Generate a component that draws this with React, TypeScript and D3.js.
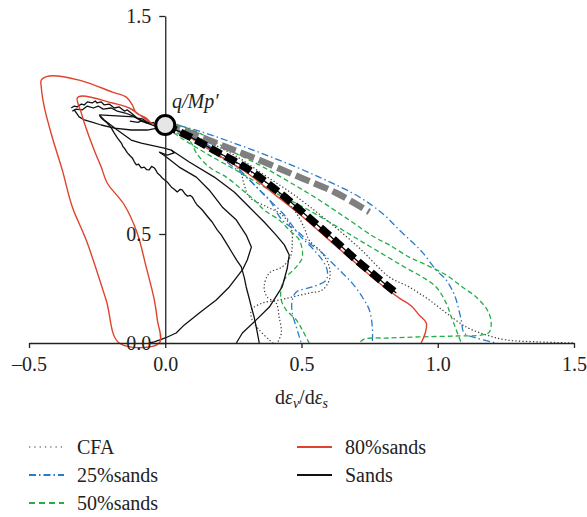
import React, { useEffect, useRef } from "react";
import * as d3 from "d3";

type P = [number, number];

// ---- axis ticks ----
const xTickValues = [-0.5, 0, 0.5, 1.0, 1.5];
const xTickLabels = ["\u20130.5", "0.0", "0.5", "1.0", "1.5"];
const yTickValues = [0, 0.5, 1.5];
const yTickLabels = ["0.0", "0.5", "1.5"];

// ---- theoretical lines ----
const theoryBlack: P[] = [
  [0, 1.0], [0.099, 0.94], [0.191, 0.876], [0.297, 0.803], [0.407, 0.702],
  [0.503, 0.601], [0.609, 0.486], [0.701, 0.381], [0.848, 0.229],
];
const theoryGray: P[] = [
  [0, 1.0], [0.033, 0.991], [0.187, 0.917], [0.345, 0.839], [0.492, 0.761],
  [0.628, 0.688], [0.749, 0.601],
];

// ---- CFA (dotted) ----
const cfa1: P[] = [
  [0, 1.0], [0.125, 0.94], [0.253, 0.862], [0.363, 0.771], [0.473, 0.679],
  [0.583, 0.573], [0.712, 0.436], [0.822, 0.303], [0.895, 0.257], [0.969, 0.197],
  [1.031, 0.138], [1.105, 0.073], [1.178, 0.037], [1.251, 0.014], [1.372, 0.005], [1.497, 0.0],
];
const cfa2: P[] = [
  [0, 1.0], [0.106, 0.931], [0.198, 0.862], [0.272, 0.794], [0.29, 0.725],
  [0.308, 0.67], [0.374, 0.624], [0.429, 0.587], [0.462, 0.528], [0.466, 0.459],
  [0.459, 0.394], [0.429, 0.349], [0.382, 0.321], [0.363, 0.257], [0.374, 0.211],
  [0.407, 0.183], [0.418, 0.119], [0.426, 0.046], [0.411, 0],
];
const cfa3: P[] = [
  [0, 1.0], [0.125, 0.922], [0.272, 0.817], [0.382, 0.725], [0.473, 0.61],
  [0.51, 0.528], [0.528, 0.472], [0.576, 0.413], [0.602, 0.349], [0.602, 0.289],
  [0.576, 0.243], [0.528, 0.229], [0.466, 0.211], [0.418, 0.197], [0.356, 0.183],
  [0.316, 0.151], [0.319, 0.106], [0.345, 0.06], [0.382, 0.014], [0.396, 0],
];

// ---- 25%sands (dash-dot) ----
const s25a: P[] = [
  [0, 1.014], [0.125, 0.972], [0.272, 0.908], [0.418, 0.839], [0.565, 0.761],
  [0.712, 0.67], [0.804, 0.587], [0.859, 0.518], [0.906, 0.463], [0.943, 0.417],
  [0.994, 0.335], [1.031, 0.289], [1.053, 0.243], [1.068, 0.197], [1.086, 0.106],
  [1.097, 0.046], [1.141, 0.023], [1.215, 0],
];
const s25b: P[] = [
  [0, 1.0], [0.125, 0.931], [0.235, 0.839], [0.327, 0.725], [0.382, 0.656],
  [0.429, 0.564], [0.492, 0.505], [0.528, 0.459], [0.576, 0.413], [0.613, 0.367],
  [0.65, 0.321], [0.686, 0.275], [0.723, 0.211], [0.749, 0.151], [0.76, 0.073], [0.76, 0],
];
const s25c: P[] = [
  [0, 1.0], [0.106, 0.94], [0.217, 0.839], [0.308, 0.748], [0.363, 0.679],
  [0.437, 0.587], [0.492, 0.495], [0.539, 0.436], [0.576, 0.381], [0.594, 0.335],
  [0.591, 0.289], [0.539, 0.257], [0.481, 0.234], [0.466, 0.197], [0.466, 0.138],
  [0.481, 0.073], [0.492, 0.028], [0.499, 0],
];

// ---- 50%sands (dashed) ----
const s50a: P[] = [
  [0.015, 1.014], [0.125, 0.963], [0.235, 0.885], [0.345, 0.817], [0.455, 0.739],
  [0.565, 0.656], [0.675, 0.564], [0.767, 0.486], [0.822, 0.45], [0.895, 0.394],
  [0.958, 0.358], [1.031, 0.312], [1.09, 0.257], [1.141, 0.211], [1.182, 0.151],
  [1.196, 0.096], [1.189, 0.05], [1.163, 0.037], [1.068, 0.032], [0.932, 0.028],
  [0.822, 0.023], [0.73, 0.018], [0.712, 0],
];
const s50b: P[] = [
  [0.007, 0.986], [0.07, 0.931], [0.161, 0.862], [0.272, 0.784], [0.382, 0.702],
  [0.492, 0.633], [0.602, 0.555], [0.712, 0.472], [0.822, 0.39], [0.884, 0.344],
  [0.943, 0.303], [0.994, 0.257], [1.031, 0.183], [1.05, 0.119], [1.068, 0.06], [1.086, 0],
];
const s50c: P[] = [
  [0.015, 0.977], [0.088, 0.931], [0.114, 0.872], [0.161, 0.807], [0.224, 0.761],
  [0.283, 0.702], [0.327, 0.656], [0.363, 0.61], [0.418, 0.564], [0.455, 0.518],
  [0.492, 0.472], [0.503, 0.394], [0.481, 0.349], [0.444, 0.303], [0.426, 0.257],
  [0.426, 0.197], [0.444, 0.151], [0.481, 0.106], [0.503, 0.06], [0.528, 0],
];

// ---- 80%sands (solid red) ----
const s80loop: P[] = [
  [-0.022, 1.005], [-0.051, 1.009], [-0.07, 1.032], [-0.106, 1.055], [-0.121, 1.092],
  [-0.143, 1.128], [-0.194, 1.151], [-0.316, 1.206], [-0.426, 1.225], [-0.455, 1.206],
  [-0.455, 1.174], [-0.444, 1.083], [-0.415, 0.945], [-0.378, 0.794], [-0.341, 0.624],
  [-0.29, 0.472], [-0.217, 0.197], [-0.169, 0], [-0.022, 0], [-0.029, 0.106],
  [-0.04, 0.197], [-0.07, 0.349], [-0.103, 0.505], [-0.15, 0.633], [-0.213, 0.734],
  [-0.235, 0.807], [-0.261, 0.885], [-0.297, 1.009], [-0.308, 1.055], [-0.323, 1.124],
  [-0.305, 1.133], [-0.194, 1.101], [-0.132, 1.078], [-0.084, 1.037], [-0.051, 1.009],
];
const s80main: P[] = [
  [0.015, 0.991], [0.088, 0.945], [0.18, 0.872], [0.29, 0.789], [0.4, 0.683],
  [0.492, 0.592], [0.602, 0.472], [0.694, 0.372], [0.785, 0.275], [0.859, 0.206],
  [0.903, 0.17], [0.932, 0.128], [0.958, 0.092], [0.954, 0.046], [0.939, 0],
];

// ---- Sands (solid black) ----
const sandsClusterTop: P[] = [
  [-0.345, 1.078], [-0.334, 1.087], [-0.323, 1.083], [-0.308, 1.096], [-0.297, 1.092],
  [-0.286, 1.106], [-0.268, 1.101], [-0.257, 1.11], [-0.25, 1.101], [-0.235, 1.106],
  [-0.224, 1.092], [-0.206, 1.096], [-0.187, 1.078], [-0.169, 1.083], [-0.15, 1.064],
  [-0.139, 1.069], [-0.125, 1.055], [-0.103, 1.032], [-0.084, 1.028], [-0.066, 1.014],
  [-0.048, 1.009], [-0.029, 1.0],
];
const sandsClusterTop2: P[] = [
  [-0.341, 1.064], [-0.327, 1.073], [-0.305, 1.069], [-0.286, 1.087], [-0.264, 1.078],
  [-0.246, 1.087], [-0.228, 1.073], [-0.198, 1.078], [-0.176, 1.064], [-0.147, 1.055],
  [-0.117, 1.041], [-0.088, 1.018], [-0.059, 1.005], [-0.029, 0.991],
];
const sandsClusterBottom: P[] = [
  [-0.334, 1.069], [-0.316, 1.037], [-0.297, 1.023], [-0.272, 1.014], [-0.235, 1.0],
  [-0.187, 0.986], [-0.125, 0.977], [-0.066, 0.977], [-0.029, 0.986],
];
const sandsBox: P[] = [
  [-0.242, 1.046], [-0.114, 1.037], [-0.066, 1.009],
];
const sandsBox2: P[] = [
  [-0.13, 1.018], [-0.1, 1.012], [-0.085, 1.02], [-0.06, 1.008], [-0.04, 1.012],
];
const sandsLower: P[] = [
  [-0.242, 1.046], [-0.224, 1.023], [-0.176, 0.977], [-0.125, 0.931], [-0.088, 0.917],
  [-0.004, 0.894], [0.022, 0.885], [0.033, 0.872], [0.007, 0.862], [-0.022, 0.876],
];
const sands1: P[] = [
  [-0.242, 1.046], [-0.235, 1.032], [-0.213, 1.009], [-0.2, 0.99], [-0.187, 0.963],
  [-0.175, 0.94], [-0.161, 0.917], [-0.155, 0.9], [-0.15, 0.894], [-0.143, 0.88],
  [-0.139, 0.872], [-0.13, 0.86], [-0.121, 0.849], [-0.113, 0.83], [-0.106, 0.817],
  [-0.098, 0.82], [-0.088, 0.803], [-0.077, 0.807], [-0.068, 0.795], [-0.059, 0.794],
  [-0.05, 0.81], [-0.04, 0.803], [-0.033, 0.79], [-0.029, 0.78], [-0.02, 0.77],
  [-0.011, 0.757], [0.007, 0.739], [0.022, 0.716], [0.033, 0.705], [0.044, 0.693],
  [0.055, 0.705], [0.062, 0.702], [0.072, 0.685], [0.081, 0.674], [0.092, 0.677],
  [0.099, 0.67], [0.108, 0.65], [0.117, 0.633], [0.136, 0.61], [0.152, 0.585],
  [0.172, 0.555], [0.19, 0.52], [0.206, 0.495], [0.228, 0.45], [0.246, 0.413],
  [0.262, 0.38], [0.279, 0.349], [0.29, 0.3], [0.297, 0.257], [0.307, 0.21],
  [0.316, 0.165], [0.326, 0.12], [0.334, 0.073], [0.345, 0],
];
const sands2: P[] = [
  [-0.022, 0.876], [0.004, 0.853], [0.051, 0.807], [0.114, 0.761], [0.161, 0.702],
  [0.209, 0.624], [0.261, 0.564], [0.297, 0.495], [0.316, 0.44], [0.301, 0.381],
  [0.283, 0.335], [0.235, 0.257], [0.187, 0.197], [0.125, 0.138], [0.07, 0.083],
  [0.04, 0.046], [0, 0.023], [-0.04, 0.005], [-0.059, 0],
];
const sands3: P[] = [
  [0.022, 0.885], [0.088, 0.83], [0.18, 0.761], [0.253, 0.693], [0.308, 0.624],
  [0.363, 0.555], [0.407, 0.495], [0.437, 0.45], [0.455, 0.404], [0.448, 0.344],
  [0.429, 0.257], [0.382, 0.165], [0.334, 0.106], [0.283, 0.046], [0.261, 0],
];

const cfaLines = [cfa1, cfa2, cfa3];
const s25Lines = [s25a, s25b, s25c];
const s50Lines = [s50a, s50b, s50c];
const s80Lines = [s80loop, s80main];
const sandsLines = [
  sandsClusterTop, sandsClusterTop2, sandsClusterBottom, sandsBox, sandsBox2,
  sandsLower, sands1, sands2, sands3,
];

const legendNames = ["CFA", "25%sands", "50%sands", "80%sands", "Sands"];

const W = 587;
const H = 517;
const FONT = "'Liberation Serif', 'Times New Roman', serif";
const FS = 20;

const RED = "#e0432d";
const BLUE = "#2b7bcb";
const GREEN = "#25ad48";
const DOT = "#3a3a3a";

const styles: Record<string, { stroke: string; dash: string | undefined; width: number }> = {
  CFA: { stroke: DOT, dash: "1.3,2.2", width: 1.2 },
  "25%sands": { stroke: BLUE, dash: "7,3,1.5,3", width: 1.3 },
  "50%sands": { stroke: GREEN, dash: "5,3", width: 1.3 },
  "80%sands": { stroke: RED, dash: undefined, width: 1.4 },
  Sands: { stroke: "#111", dash: undefined, width: 1.3 },
};

export default function App() {
  const xAxisRef = useRef<SVGGElement>(null);
  const yAxisRef = useRef<SVGGElement>(null);

  const x = d3.scaleLinear().domain([-0.5, 1.5]).range([29, 574]);
  const y = d3.scaleLinear().domain([0, 1.5]).range([343, 16]);

  const smooth = d3.line<P>().x((d) => x(d[0])).y((d) => y(d[1])).curve(d3.curveCatmullRom.alpha(0.5));
  const straight = d3.line<P>().x((d) => x(d[0])).y((d) => y(d[1]));

  useEffect(() => {
    if (xAxisRef.current) {
      const ax = d3
        .axisBottom(x)
        .tickValues(xTickValues)
        .tickFormat((_d, i) => xTickLabels[i])
        .tickSize(5)
        .tickSizeOuter(0)
        .tickPadding(9);
      const g = d3.select(xAxisRef.current);
      g.call(ax as any);
      g.select(".domain").attr("stroke", "#222").attr("stroke-width", 1.3);
      g.selectAll(".tick line").attr("stroke", "#222").attr("stroke-width", 1.3);
      g.selectAll(".tick text").attr("font-family", FONT).attr("font-size", FS).attr("fill", "#222");
    }
    if (yAxisRef.current) {
      const ay = d3
        .axisLeft(y)
        .tickValues(yTickValues)
        .tickFormat((_d, i) => yTickLabels[i])
        .tickSize(6)
        .tickSizeOuter(0)
        .tickPadding(8);
      const g = d3.select(yAxisRef.current);
      g.call(ay as any);
      g.select(".domain").attr("stroke", "#222").attr("stroke-width", 1.3);
      g.selectAll(".tick line").attr("stroke", "#222").attr("stroke-width", 1.3);
      g.selectAll(".tick text").attr("font-family", FONT).attr("font-size", FS).attr("fill", "#222");
    }
  }, []);

  const drawGroup = (lines: P[][], name: string, fn: d3.Line<P>) => {
    const s = styles[name];
    return lines.map((l, i) => (
      <path
        key={name + i}
        d={fn(l) || ""}
        fill="none"
        stroke={s.stroke}
        strokeWidth={s.width}
        strokeDasharray={s.dash}
        strokeLinejoin="round"
      />
    ));
  };

  const legendPos = [
    { col: 0, row: 0 },
    { col: 0, row: 1 },
    { col: 0, row: 2 },
    { col: 1, row: 0 },
    { col: 1, row: 1 },
  ];
  const colX = [29, 297];
  const rowY = [447, 475, 503];

  return (
    <svg
      width={W}
      height={H}
      style={{ position: "absolute", left: 0, top: 0, background: "#fff" }}
      fontFamily={FONT}
    >
      <rect x={0} y={0} width={W} height={H} fill="#fff" />
      {drawGroup(cfaLines, "CFA", smooth)}
      {drawGroup(s25Lines, "25%sands", smooth)}
      {drawGroup(s50Lines, "50%sands", smooth)}
      {drawGroup(sandsLines, "Sands", straight)}
      {drawGroup(s80Lines, "80%sands", smooth)}

      {/* theory lines */}
      <path d={smooth(theoryGray) || ""} fill="none" stroke="#7f7f7f" strokeWidth={6.5} strokeDasharray="15,5" />
      <path d={smooth(theoryBlack) || ""} fill="none" stroke="#000" strokeWidth={1.2} />
      <path d={smooth(theoryBlack) || ""} fill="none" stroke="#000" strokeWidth={7.5} strokeDasharray="12,5" />

      <g ref={xAxisRef} transform={`translate(0,${y(0)})`} />
      <g ref={yAxisRef} transform={`translate(${x(0)},0)`} />

      <circle cx={x(0)} cy={y(1)} r={9.5} fill="#e6e6e6" stroke="#000" strokeWidth={3} />

      <text x={172} y={108} fontSize={FS} fontStyle="italic" fill="#222">
        q/Mp′
      </text>

      <text x={x(0.5)} y={404} fontSize={FS} textAnchor="middle" fill="#222">
        d<tspan fontStyle="italic">ε</tspan>
        <tspan fontStyle="italic" fontSize={14} dy={4}>v</tspan>
        <tspan dy={-4}>/d</tspan>
        <tspan fontStyle="italic">ε</tspan>
        <tspan fontStyle="italic" fontSize={14} dy={4}>s</tspan>
      </text>

      {legendNames.map((name, i) => {
        const p = legendPos[i];
        const s = styles[name];
        const lx = colX[p.col];
        const ly = rowY[p.row];
        return (
          <g key={name}>
            <line
              x1={lx}
              x2={lx + 35}
              y1={ly}
              y2={ly}
              stroke={s.stroke}
              strokeWidth={name === "CFA" ? 1.2 : 1.8}
              strokeDasharray={name === "CFA" ? "1.3,4" : name === "50%sands" ? "6,4" : s.dash}
            />
            <text x={lx + 48} y={ly} dy="0.35em" fontSize={FS} fill="#222">
              {name}
            </text>
          </g>
        );
      })}
    </svg>
  );
}
